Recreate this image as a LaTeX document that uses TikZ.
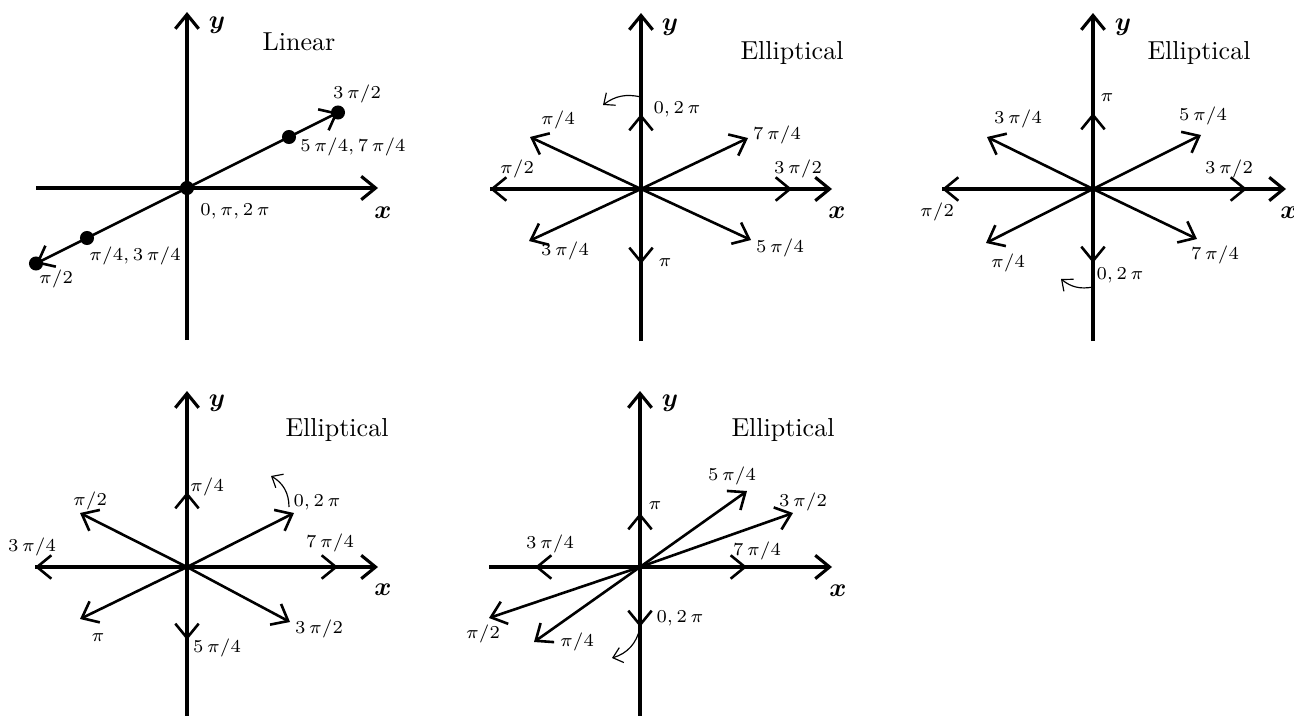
\documentclass[tikz,border=0pt]{standalone}
\usepackage{amsmath}
\usetikzlibrary{arrows.meta}
\tikzset{
  axisline/.style={line width=1.2pt, -{Straight Barb[length=5.5pt,width=9pt]}},
  axisplain/.style={line width=1.2pt},
  polvec/.style={line width=1pt, -{Straight Barb[length=5.5pt,width=9pt]}},
  linvec/.style={line width=1pt, {Straight Barb[length=5.5pt,width=9pt]}-{Straight Barb[length=5.5pt,width=9pt]}},
  rotarrow/.style={line width=0.45pt, -{Straight Barb[length=3.5pt,width=6pt]}},
  lbl/.style={font=\scriptsize, inner sep=0pt},
  axlbl/.style={font=\normalsize, inner sep=0pt},
  ttl/.style={font=\normalsize, inner sep=0pt},
  dotnode/.style={circle, fill=black, inner sep=0pt, minimum size=5.4pt}
}
\begin{document}
\begin{tikzpicture}[x=0.3846pt,y=0.3846pt]
\useasboundingbox (0,-715) rectangle (1294,0);

% ---------------- Panel 1: Linear ----------------
\begin{scope}[shift={(187,-188)}]
  \coordinate (pAo) at (0,0);
  \coordinate (pAxl) at (-151,0); \coordinate (pAxr) at (191,0);
  \coordinate (pAyb) at (0,-152); \coordinate (pAyt) at (0,176);
  \draw[axisline] (pAxl) -- (pAxr);
  \draw[axisline] (pAyb) -- (pAyt);
  \node[axlbl] (pAx) at (196,-25) {$\boldsymbol{x}$};
  \node[axlbl] (pAy) at (30,163) {$\boldsymbol{y}$};
  \node[ttl] (pAt) at (112,146) {Linear};
  \coordinate (pAp) at (151,75.5); \coordinate (pAm) at (-151,-75.5);
  \draw[linvec] (pAm) -- (pAp);
  \node[dotnode] (pAd0) at (pAo) {};
  \node[dotnode] (pAd1) at (102,51) {};
  \node[dotnode] (pAd2) at (-100,-50) {};
  \node[dotnode] (pAd3) at (pAp) {};
  \node[dotnode] (pAd4) at (pAm) {};
  \node[lbl] (pAl3) at (170,94) {$3\,\pi/2$};
  \node[lbl] (pAl57) at (166,41) {$5\,\pi/4, 7\,\pi/4$};
  \node[lbl] (pAl0) at (48,-23) {$0, \pi, 2\,\pi$};
  \node[lbl] (pAl13) at (-52,-68) {$\pi/4, 3\,\pi/4$};
  \node[lbl] (pAl2) at (-131,-91) {$\pi/2$};
\end{scope}

% ---------------- Panel 2 ----------------
\begin{scope}[shift={(641,-189)}]
  \coordinate (pBo) at (0,0);
  \coordinate (pBxl) at (-151,0); \coordinate (pBxr) at (191,0);
  \coordinate (pByb) at (0,-152); \coordinate (pByt) at (0,176);
  \draw[axisline] (pBxl) -- (pBxr);
  \draw[axisline] (pByb) -- (pByt);
  \node[axlbl] (pBx) at (196,-24) {$\boldsymbol{x}$};
  \node[axlbl] (pBy) at (29,162) {$\boldsymbol{y}$};
  \node[ttl] (pBt) at (151,136) {Elliptical};
  \coordinate (pBv0) at (0,75);
  \coordinate (pBv1) at (-111,52);
  \coordinate (pBv2) at (-151,0);
  \coordinate (pBv3) at (-112,-52);
  \coordinate (pBv4) at (0,-75);
  \coordinate (pBv5) at (110,-51);
  \coordinate (pBv6) at (151,0);
  \coordinate (pBv7) at (107,51);
  \foreach \i in {0,...,7} {\draw[polvec] (pBo) -- (pBv\i);}
  \coordinate (pBr0) at (0,92); \coordinate (pBr1) at (-38,84);
  \draw[rotarrow] (pBr0) to[bend right=25] (pBr1);
  \node[lbl] (pBl0) at (36,80) {$0, 2\,\pi$};
  \node[lbl] (pBl1) at (-83,69) {$\pi/4$};
  \node[lbl] (pBl7) at (136,54) {$7\,\pi/4$};
  \node[lbl] (pBl2) at (-124,20) {$\pi/2$};
  \node[lbl] (pBl6) at (157,20) {$3\,\pi/2$};
  \node[lbl] (pBl3) at (-76,-62) {$3\,\pi/4$};
  \node[lbl] (pBl5) at (139,-59) {$5\,\pi/4$};
  \node[lbl] (pBl4) at (24,-74) {$\pi$};
\end{scope}

% ---------------- Panel 3 ----------------
\begin{scope}[shift={(1093,-189)}]
  \coordinate (pCo) at (0,0);
  \coordinate (pCxl) at (-151,0); \coordinate (pCxr) at (193,0);
  \coordinate (pCyb) at (0,-152); \coordinate (pCyt) at (0,176);
  \draw[axisline] (pCxl) -- (pCxr);
  \draw[axisline] (pCyb) -- (pCyt);
  \node[axlbl] (pCx) at (196,-24) {$\boldsymbol{x}$};
  \node[axlbl] (pCy) at (30,162) {$\boldsymbol{y}$};
  \node[ttl] (pCt) at (106,136) {Elliptical};
  \coordinate (pCv0) at (0,-74);
  \coordinate (pCv1) at (-107,-54);
  \coordinate (pCv2) at (-151,0);
  \coordinate (pCv3) at (-106,52);
  \coordinate (pCv4) at (0,76);
  \coordinate (pCv5) at (108,54);
  \coordinate (pCv6) at (154,0);
  \coordinate (pCv7) at (104,-50);
  \foreach \i in {0,...,7} {\draw[polvec] (pCo) -- (pCv\i);}
  \coordinate (pCr0) at (0,-98); \coordinate (pCr1) at (-32,-90);
  \draw[rotarrow] (pCr0) to[bend left=25] (pCr1);
  \node[lbl] (pCl0) at (27,-86) {$0, 2\,\pi$};
  \node[lbl] (pCl1) at (-85,-74) {$\pi/4$};
  \node[lbl] (pCl2) at (-156,-23) {$\pi/2$};
  \node[lbl] (pCl3) at (-75,70) {$3\,\pi/4$};
  \node[lbl] (pCl4) at (14,91) {$\pi$};
  \node[lbl] (pCl5) at (110,73) {$5\,\pi/4$};
  \node[lbl] (pCl6) at (136,20) {$3\,\pi/2$};
  \node[lbl] (pCl7) at (122,-66) {$7\,\pi/4$};
\end{scope}

% ---------------- Panel 4 ----------------
\begin{scope}[shift={(187,-567)}]
  \coordinate (pDo) at (0,0);
  \coordinate (pDxl) at (-152,0); \coordinate (pDxr) at (191,0);
  \coordinate (pDyb) at (0,-152); \coordinate (pDyt) at (0,176);
  \draw[axisline] (pDxl) -- (pDxr);
  \draw[axisline] (pDyb) -- (pDyt);
  \node[axlbl] (pDx) at (196,-23) {$\boldsymbol{x}$};
  \node[axlbl] (pDy) at (30,164) {$\boldsymbol{y}$};
  \node[ttl] (pDt) at (150,137) {Elliptical};
  \coordinate (pDv0) at (107,54);
  \coordinate (pDv1) at (0,75);
  \coordinate (pDv2) at (-107,54);
  \coordinate (pDv3) at (-152,0);
  \coordinate (pDv4) at (-107,-52);
  \coordinate (pDv5) at (0,-73);
  \coordinate (pDv6) at (103,-55);
  \coordinate (pDv7) at (151,0);
  \foreach \i in {0,...,7} {\draw[polvec] (pDo) -- (pDv\i);}
  \coordinate (pDr0) at (102,60); \coordinate (pDr1) at (84,91);
  \draw[rotarrow] (pDr0) to[bend right=30] (pDr1);
  \node[lbl] (pDl0) at (130,65) {$0, 2\,\pi$};
  \node[lbl] (pDl1) at (20,80) {$\pi/4$};
  \node[lbl] (pDl2) at (-97,66) {$\pi/2$};
  \node[lbl] (pDl3) at (-155,20) {$3\,\pi/4$};
  \node[lbl] (pDl4) at (-89,-71) {$\pi$};
  \node[lbl] (pDl5) at (30,-81) {$5\,\pi/4$};
  \node[lbl] (pDl6) at (132,-62) {$3\,\pi/2$};
  \node[lbl] (pDl7) at (143,24) {$7\,\pi/4$};
\end{scope}

% ---------------- Panel 5 ----------------
\begin{scope}[shift={(640,-567)}]
  \coordinate (pEo) at (0,0);
  \coordinate (pExl) at (-151,0); \coordinate (pExr) at (192,0);
  \coordinate (pEyb) at (0,-152); \coordinate (pEyt) at (0,176);
  \draw[axisplain] (pExl) -- (pEo);
  \draw[axisline] (pEo) -- (pExr);
  \draw[axisline] (pEyb) -- (pEyt);
  \node[axlbl] (pEx) at (198,-24) {$\boldsymbol{x}$};
  \node[axlbl] (pEy) at (30,164) {$\boldsymbol{y}$};
  \node[ttl] (pEt) at (143,137) {Elliptical};
  \coordinate (pEv0) at (0,-60);
  \coordinate (pEv1) at (-106,-75);
  \coordinate (pEv2) at (-151,-51);
  \coordinate (pEv3) at (-105,0);
  \coordinate (pEv4) at (0,54);
  \coordinate (pEv5) at (107,76);
  \coordinate (pEv6) at (153,54);
  \coordinate (pEv7) at (107,0);
  \foreach \i in {0,...,7} {\draw[polvec] (pEo) -- (pEv\i);}
  \coordinate (pEr0) at (0,-61); \coordinate (pEr1) at (-28,-91);
  \draw[rotarrow] (pEr0) to[bend left=30] (pEr1);
  \node[lbl] (pEl0) at (40,-51) {$0, 2\,\pi$};
  \node[lbl] (pEl1) at (-63,-75) {$\pi/4$};
  \node[lbl] (pEl2) at (-157,-67) {$\pi/2$};
  \node[lbl] (pEl3) at (-90,23) {$3\,\pi/4$};
  \node[lbl] (pEl4) at (15,61) {$\pi$};
  \node[lbl] (pEl5) at (92,91) {$5\,\pi/4$};
  \node[lbl] (pEl6) at (163,65) {$3\,\pi/2$};
  \node[lbl] (pEl7) at (117,16) {$7\,\pi/4$};
\end{scope}
\end{tikzpicture}
\end{document}
